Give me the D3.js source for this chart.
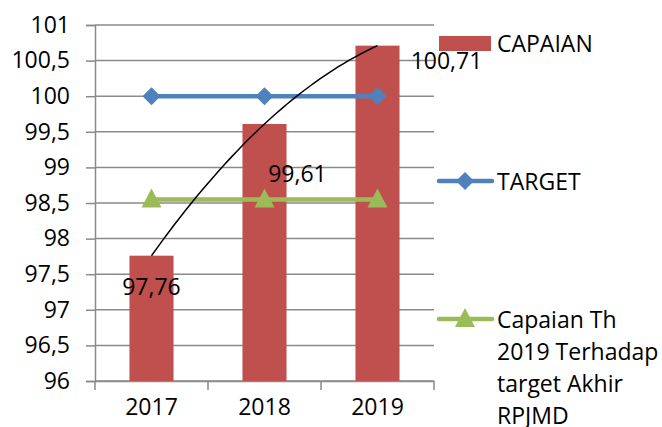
<!DOCTYPE html>
<html>
<head>
<meta charset="utf-8">
<script src="https://cdn.jsdelivr.net/npm/d3@7"></script>
<style>
  body { margin: 0; background: #fff; }
  text { font-family: "Open Sans", sans-serif; fill: #000; }
</style>
</head>
<body>
<svg id="chart" width="662" height="427"></svg>
<script>
// data
var years = ["2017", "2018", "2019"];
var capaian = [97.76, 99.61, 100.71];
var target = [100, 100, 100];
var capaianAkhir = [98.55, 98.55, 98.55];
var yTicks = [96, 96.5, 97, 97.5, 98, 98.5, 99, 99.5, 100, 100.5, 101];
var legendLabels = ["CAPAIAN", "TARGET", ["Capaian Th", "2019 Terhadap", "target Akhir", "RPJMD"]];

var svg = d3.select("#chart");
var plotLeft = 95, plotRight = 434, plotTop = 25, plotBottom = 381;
var fontSize = 23;

var locale = d3.formatLocale({ decimal: ",", thousands: ".", grouping: [3], currency: ["", ""] });
var fmt = locale.format("~f");

var y = d3.scaleLinear().domain([96, 101]).range([plotBottom, plotTop]);
var xCat = d3.scaleBand().domain(years).range([plotLeft, plotRight]);
var xBar = d3.scaleBand().domain(years).range([plotLeft, plotRight]).paddingInner(0.61).paddingOuter(0.305);
var cx = function (d) { return xCat(d) + xCat.bandwidth() / 2; };

// gridlines
svg.append("g")
  .selectAll("line")
  .data(yTicks)
  .enter()
  .append("line")
  .attr("x1", plotLeft).attr("x2", plotRight)
  .attr("y1", function (d) { return y(d); })
  .attr("y2", function (d) { return y(d); })
  .attr("stroke", "#8a8a8a")
  .attr("stroke-width", 1.5);

// y axis
var yAxis = svg.append("g")
  .attr("transform", "translate(" + plotLeft + ",0)")
  .call(d3.axisLeft(y).tickValues(yTicks).tickFormat(fmt).tickSize(9).tickPadding(16));
yAxis.select(".domain").attr("stroke", "#8a8a8a").attr("stroke-width", 1.5);
yAxis.selectAll(".tick line").attr("stroke", "#8a8a8a").attr("stroke-width", 1.5);
yAxis.selectAll(".tick text").style("font-size", fontSize + "px").attr("font-family", null);

// x axis
var xAxis = svg.append("g")
  .attr("transform", "translate(0," + plotBottom + ")")
  .call(d3.axisBottom(xCat).tickSize(0).tickPadding(26));
xAxis.select(".domain").attr("stroke", "#8a8a8a").attr("stroke-width", 1.5);
xAxis.selectAll(".tick text").style("font-size", fontSize + "px").attr("dy", "0.35em");
svg.append("g")
  .selectAll("line")
  .data(years.concat(["end"]))
  .enter()
  .append("line")
  .attr("x1", function (d, i) { return i < years.length ? xCat(d) : plotRight; })
  .attr("x2", function (d, i) { return i < years.length ? xCat(d) : plotRight; })
  .attr("y1", plotBottom).attr("y2", plotBottom + 9)
  .attr("stroke", "#8a8a8a")
  .attr("stroke-width", 1.5);

// bars
svg.append("g")
  .selectAll("rect")
  .data(capaian)
  .enter()
  .append("rect")
  .attr("x", function (d, i) { return xBar(years[i]); })
  .attr("width", xBar.bandwidth())
  .attr("y", function (d) { return y(d); })
  .attr("height", function (d) { return plotBottom - y(d); })
  .attr("fill", "#c0504d");

// lines with markers
function series(values, color, marker) {
  var line = d3.line()
    .x(function (d, i) { return cx(years[i]); })
    .y(function (d) { return y(d); });
  svg.append("path")
    .datum(values)
    .attr("d", line)
    .attr("fill", "none")
    .attr("stroke", color)
    .attr("stroke-width", 4.5);
  svg.append("g")
    .selectAll("path")
    .data(values)
    .enter()
    .append("path")
    .attr("transform", function (d, i) { return "translate(" + cx(years[i]) + "," + y(d) + ")"; })
    .attr("d", marker)
    .attr("fill", color);
}
var diamond = "M0,-9L9,0L0,9L-9,0Z";
var triangle = "M0,-11L10,8L-10,8Z";
series(target, "#4f81bd", diamond);
series(capaianAkhir, "#9bbb59", triangle);

// polynomial (order 2) trendline through the bar values
var c0 = capaian[0], c1 = capaian[1], c2 = capaian[2];
var a = (c2 - 2 * c1 + c0) / 2, b = c1 - c0 - a;
var trend = d3.range(0, 2.001, 0.05).map(function (t) { return [t, c0 + b * t + a * t * t]; });
svg.append("path")
  .datum(trend)
  .attr("d", d3.line()
    .x(function (d) { return cx(years[0]) + d[0] * xCat.step(); })
    .y(function (d) { return y(d[1]); }))
  .attr("fill", "none")
  .attr("stroke", "#000")
  .attr("stroke-width", 1.5);

// data labels (manually placed in the original)
var labelOffsets = [[0, 30], [33, 49], [69, 14]];
svg.append("g")
  .selectAll("text")
  .data(capaian)
  .enter()
  .append("text")
  .attr("x", function (d, i) { return cx(years[i]) + labelOffsets[i][0]; })
  .attr("y", function (d) { return y(d); })
  .attr("dy", function (d, i) { return labelOffsets[i][1]; })
  .attr("text-anchor", "middle")
  .attr("dominant-baseline", "central")
  .style("font-size", fontSize + "px")
  .text(function (d) { return fmt(d); });

// legend
var lg = svg.append("g");
lg.append("rect").attr("x", 439).attr("y", 36).attr("width", 52).attr("height", 15).attr("fill", "#c0504d");
lg.append("text").attr("x", 497).attr("y", 43).attr("dominant-baseline", "central")
  .style("font-size", fontSize + "px").text(legendLabels[0]);

lg.append("line").attr("x1", 439).attr("x2", 492).attr("y1", 181).attr("y2", 181)
  .attr("stroke", "#4f81bd").attr("stroke-width", 4.5).attr("stroke-linecap", "round");
lg.append("path").attr("transform", "translate(465,181)").attr("d", diamond).attr("fill", "#4f81bd");
lg.append("text").attr("x", 497).attr("y", 181).attr("dominant-baseline", "central")
  .style("font-size", fontSize + "px").text(legendLabels[1]);

lg.append("line").attr("x1", 439).attr("x2", 492).attr("y1", 319).attr("y2", 319)
  .attr("stroke", "#9bbb59").attr("stroke-width", 4.5).attr("stroke-linecap", "round");
lg.append("path").attr("transform", "translate(465,319)").attr("d", triangle).attr("fill", "#9bbb59");
lg.append("g")
  .selectAll("text")
  .data(legendLabels[2])
  .enter()
  .append("text")
  .attr("x", 497)
  .attr("y", function (d, i) { return 319 + i * 32; })
  .attr("dominant-baseline", "central")
  .style("font-size", fontSize + "px")
  .text(function (d) { return d; });
</script>
</body>
</html>
